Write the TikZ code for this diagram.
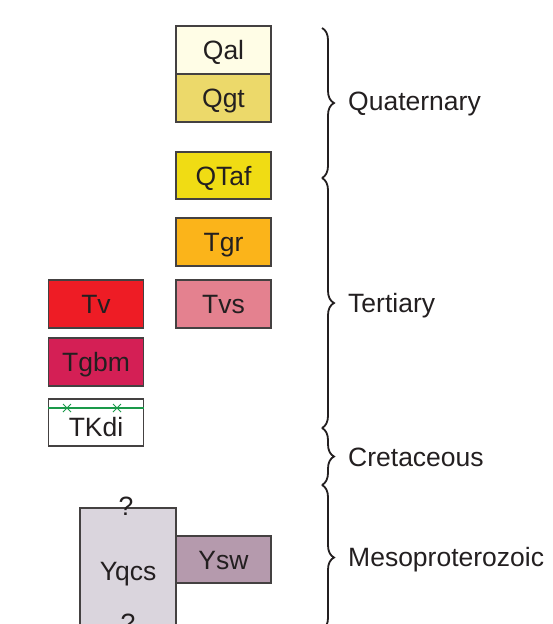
\documentclass[tikz,border=0pt]{standalone}
\usepackage{fontspec}
\setmainfont{Liberation Sans}
\usetikzlibrary{decorations.pathreplacing}

\definecolor{qalcol}{HTML}{FFFDE6}
\definecolor{qgtcol}{HTML}{ECD96A}
\definecolor{qtafcol}{HTML}{F0DC14}
\definecolor{tgrcol}{HTML}{FBB41A}
\definecolor{tvscol}{HTML}{E4818F}
\definecolor{tvcol}{HTML}{EE1C25}
\definecolor{tgbmcol}{HTML}{D41F55}
\definecolor{yqcscol}{HTML}{DAD5DD}
\definecolor{yswcol}{HTML}{B59AAD}
\definecolor{dikegreen}{HTML}{1A9A4A}
\definecolor{inkcol}{HTML}{231F20}

\tikzset{
  unitbox/.style = {draw = inkcol!85, line width = 1.3pt, fill = #1, minimum width = 95pt,
                    minimum height = 48pt, inner sep = 0pt, text = inkcol,
                    text height = 19pt, text depth = 0pt},
  plaintext/.style = {inner sep = 0pt, text = inkcol, text height = 19pt, text depth = 0pt},
  agebrace/.style = {decorate, decoration = {brace, amplitude = 12pt}, line width = 1.8pt, inkcol},
  agelabel/.style = {plaintext, anchor = west}
}

\begin{document}
\begin{tikzpicture}[x = 1pt, y = -1pt, font = \fontsize{26.5}{30}\selectfont]

    \useasboundingbox (0,0) rectangle (553,624);
    \clip (0,0) rectangle (553,624);

    % map units, right column
    \node [unitbox = qalcol] (qal) at (223.5,50) {Qal};
    \node [unitbox = qgtcol] (qgt) at (223.5,98) {Qgt};
    \node [unitbox = qtafcol, minimum height = 47pt] (qtaf) at (223.5,175.5) {QTaf};
    \node [unitbox = tgrcol] (tgr) at (223.5,242) {Tgr};
    \node [unitbox = tvscol] (tvs) at (223.5,304) {Tvs};

    % map units, left column
    \node [unitbox = tvcol] (tv) at (96,304) {Tv};
    \node [unitbox = tgbmcol] (tgbm) at (96,362) {Tgbm};
    \node [unitbox = white, minimum height = 47pt] (tkdi) at (96,422.5) {};
    \node [plaintext] (tkdilabel) at (96,427) {TKdi};
    \draw [dikegreen, line width = 1.6pt] (48,408) -- (144,408);
    \foreach \x in {67,117} {
      \draw [dikegreen, line width = 1pt] (\x-4,404) -- (\x+4,412) (\x-4,412) -- (\x+4,404);
    }

    % Proterozoic units
    \draw [draw = inkcol!85, line width = 1.3pt, fill = yqcscol] (80,508) rectangle (176,650);
    \node [plaintext] (yqcs) at (128,571) {Yqcs};
    \node [plaintext] (qtop) at (126,506) {?};
    \node [plaintext] (qbot) at (128,623) {?};
    \node [unitbox = yswcol, minimum height = 47pt] (ysw) at (223.5,559.5) {Ysw};

    % age braces
    \draw [agebrace] (322,28) -- (322,178);
    \draw [agebrace] (322,178) -- (322,428);
    \draw [agebrace] (322,428) -- (322,485);
    \draw [agebrace] (322,485) -- (322,630);
    \node [agelabel] (quat) at (348,101) {Quaternary};
    \node [agelabel] (tert) at (348,303) {Tertiary};
    \node [agelabel] (cret) at (348,457) {Cretaceous};
    \node [agelabel] (meso) at (348,557) {Mesoproterozoic};

\end{tikzpicture}
\end{document}
